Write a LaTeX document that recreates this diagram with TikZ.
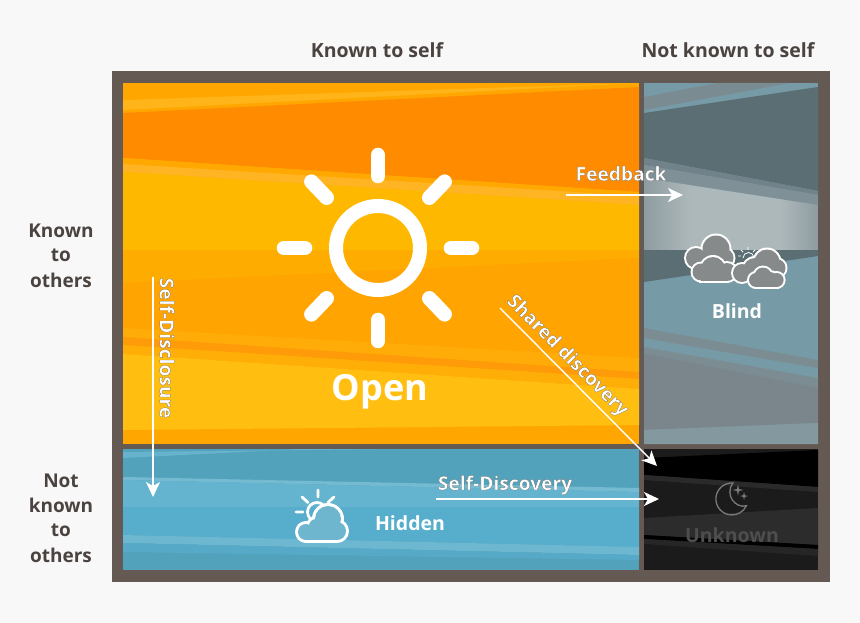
\documentclass[tikz,border=0pt]{standalone}
\usepackage{fontspec}
\setmainfont{Open Sans}
\usetikzlibrary{arrows.meta}
\definecolor{bgc}{HTML}{F8F8F8}
\definecolor{framec}{HTML}{645A53}
\definecolor{headc}{HTML}{4A4340}
\definecolor{cloudg}{HTML}{868A8B}
\definecolor{cloudb}{HTML}{6DB6CE}
\definecolor{greyedge}{HTML}{8E9CA1}
\definecolor{greymid}{HTML}{ADB8BA}
\definecolor{unkc}{HTML}{4E4E4E}
\newcommand{\bandfill}[7]{\fill[#1] (#2,#4) -- (#3,#5) -- (#3,#7) -- (#2,#6) -- cycle;}
\newcommand{\halo}[1]{\special{pdf:code 2 Tr 0.22 w 0.42 0.4 0.38 RG}#1\special{pdf:code 0 Tr}}
\newcommand{\lobes}[3]{%
  \foreach \cx/\cy/\cr in {#3} {\fill[#1] (\cx,\cy) circle ({\cr+#2});}%
}
\newcommand{\lobesin}[2]{%
  \foreach \cx/\cy/\cr in {#2} {\fill[#1] (\cx,\cy) circle (\cr);}%
}
\tikzset{
  HTML/.code={\definecolor{tmpc}{HTML}{#1}\pgfkeysalso{color=tmpc}},
  head/.style={font=\fontsize{19.5}{22}\selectfont\bfseries, text=headc, inner sep=0pt},
  side/.style={font=\fontsize{19}{22}\selectfont\bfseries, text=headc, inner sep=0pt},
  panel/.style={font=\bfseries, text=white, inner sep=0pt},
  flow/.style={draw=white, line width=1.4pt, -{Stealth[length=15pt,width=14pt,inset=4pt]}},
  flowtext/.style={font=\fontsize{19.2}{21}\selectfont\bfseries, text=white, inner sep=0pt},
  ray/.style={line width=14.6pt, line cap=round, white},
}
\begin{document}
\begin{tikzpicture}[x=1pt,y=-1pt]
\useasboundingbox (0,0) rectangle (860,623);
\fill[bgc] (0,0) rectangle (860,623);
\fill[framec] (112,71) rectangle (830,582);
% ---------- Open
\begin{scope}
\clip (123,83) rectangle (639,444);
\fill[HTML=FFA700] (123,83) rectangle (639,444);
\bandfill{HTML=FFB41A}{123}{639}{100}{83}{110}{83}
\fill[HTML=FF8C00] (123,113) -- (639,87) -- (639,192) -- (123,158) -- cycle;
\bandfill{HTML=FFA800}{123}{639}{158}{192}{165}{198}
\bandfill{HTML=FFB523}{123}{639}{164}{196}{172}{205}
\bandfill{HTML=FFB800}{123}{639}{172}{205}{250}{250}
\bandfill{HTML=FFAC00}{123}{639}{250}{250}{283}{258}
\bandfill{HTML=FFA400}{123}{639}{283}{258}{330}{360}
\bandfill{HTML=FFAC08}{123}{639}{328}{358}{338}{372}
\bandfill{HTML=FF9A08}{123}{639}{337}{372}{345}{379}
\bandfill{HTML=FFAE08}{123}{639}{345}{379}{354}{389}
\bandfill{HTML=FFBE10}{123}{639}{354}{389}{430}{425}
\end{scope}
% ---------- Blind
\begin{scope}
\clip (644,83) rectangle (818,444);
\fill[HTML=769AA6] (644,83) rectangle (818,444);
\fill[HTML=7A8C92] (644,97) -- (718,83) -- (790,83) -- (644,110) -- cycle;
\fill[HTML=5B6E74] (644,113) -- (818,87) -- (818,191) -- (644,158) -- cycle;
\fill[HTML=71828A] (644,158) -- (818,191) -- (818,195) -- (644,165) -- cycle;
\fill[HTML=7F9197] (644,165) -- (818,195) -- (818,205) -- (644,178) -- cycle;
\begin{scope}
\clip (644,178) -- (818,205) -- (818,250) -- (644,250) -- cycle;
\shade[left color=greyedge, right color=greymid] (644,170) rectangle (690,250);
\fill[greymid] (689.5,170) rectangle (780.5,250);
\shade[left color=greymid, right color=greyedge] (780,170) rectangle (818,250);
\end{scope}
\fill[HTML=5B6E74] (644,250) -- (818,250) -- (818,256) -- (644,282) -- cycle;
\fill[HTML=7B8D92] (644,328) -- (818,360) -- (818,368) -- (644,338) -- cycle;
\fill[HTML=7B8D92] (644,347) -- (818,378) -- (818,388) -- (644,353) -- cycle;
\fill[HTML=7A868B] (644,353) -- (818,388) -- (818,423) -- (644,430) -- cycle;
\fill[HTML=84989F] (644,430) -- (818,423) -- (818,444) -- (644,444) -- cycle;
\end{scope}
% ---------- Hidden
\begin{scope}
\clip (123,449) rectangle (639,570);
\fill[HTML=53A2BC] (123,449) rectangle (639,570);
\fill[HTML=67B3CE] (123,452) -- (400,449) -- (300,449) -- (123,458) -- cycle;
\fill[HTML=74BBD2] (123,477) -- (639,488) -- (639,492) -- (123,480) -- cycle;
\fill[HTML=65B4CF] (123,480) -- (639,492) -- (639,507) -- (123,507) -- cycle;
\fill[HTML=56ADCC] (123,507) -- (639,507) -- (639,547) -- (123,535) -- cycle;
\fill[HTML=6DB8D0] (123,535) -- (639,547) -- (639,555) -- (123,543) -- cycle;
\fill[HTML=56AAC8] (123,543) -- (639,555) -- (639,560) -- (123,552) -- cycle;
\end{scope}
% ---------- Unknown
\begin{scope}
\clip (644,449) rectangle (818,570);
\fill[HTML=1B1B1B] (644,449) rectangle (818,570);
\fill[black] (644,458) -- (818,450) -- (818,487) -- (644,475) -- cycle;
\fill[HTML=2A2A2A] (644,475) -- (818,487) -- (818,492) -- (644,480) -- cycle;
\fill[HTML=2C2C2C] (644,518) -- (818,508) -- (818,545) -- (644,535) -- cycle;
\fill[black] (644,535) -- (818,545) -- (818,549) -- (644,539) -- cycle;
\fill[HTML=262626] (644,539) -- (818,549) -- (818,556) -- (644,544) -- cycle;
\end{scope}
% ---------- Sun
\draw[white, line width=14pt] (378,248) circle (42);
\draw[ray] (378,155) -- (378,176);
\draw[ray] (378,320) -- (378,341);
\draw[ray] (284,248) -- (305,248);
\draw[ray] (451,248) -- (472,248);
\draw[ray] (311.4,181.7) -- (326.7,197.7);
\draw[ray] (444.6,181.7) -- (429.3,197.7);
\draw[ray] (311.4,314.3) -- (326.7,298.3);
\draw[ray] (444.6,314.3) -- (429.3,298.3);
% ---------- Blind clouds
\lobes{white}{2}{696/258/10,716/249/13.5,724/258/9.5,710/262/12}
\lobesin{cloudg}{696/258/10,716/249/13.5,724/258/9.5,710/262/12}
\fill[white] (699,270) rectangle (729,283);
\lobes{white}{2}{701/272/8.5,713/269/12,727/272/9}
\lobesin{cloudg}{701/272/8.5,713/269/12,727/272/9}
\fill[cloudg] (701,270) rectangle (727,281);
\draw[white, line width=0.8pt] (743,258) arc[start angle=-180,end angle=0,radius=5.5];
\draw[white, line width=0.8pt] (748,247) -- (748,250) (741,250) -- (743,252) (755,250) -- (753,252) (738,256) -- (741,256);
\lobes{white}{2}{742/273/9,755/270/12,767/262/12.5,776.5/268/9,770/273/8}
\lobesin{cloudg}{742/273/9,755/270/12,767/262/12.5,776.5/268/9,770/273/8}
\fill[white] (754,278) rectangle (779,289);
\lobes{white}{2}{756/280/7,763/276/8.5,776.6/280/7,770/279/7}
\lobesin{cloudg}{756/280/7,763/276/8.5,776.6/280/7,770/279/7}
\fill[cloudg] (756,279) rectangle (776.6,287);
% ---------- Hidden cloud
\draw[white, line width=2.8pt] (317,512) circle (9.5);
\draw[white, line width=2.8pt, line cap=round] (318,490) -- (318,497) (302,497) -- (308,502.5) (334,497) -- (328,502.5) (296,512) -- (303,512);
\lobes{white}{3}{306/532/8,316/526/7,328/519/13,337/531/9}
\lobesin{cloudb}{306/532/8,316/526/7,328/519/13,337/531/9}
\fill[white] (306,534) rectangle (337,543);
\fill[cloudb] (306,530) rectangle (337,540);
% ---------- Moon
\draw[HTML=7A7A7A, line width=1.3pt] (733,483) arc[start angle=-86,end angle=-335,radius=16] .. controls (736,509) and (724,495) .. (733,483) -- cycle;
\fill[HTML=7A7A7A] (738,484.5) -- (739,489) -- (743.5,490) -- (739,491) -- (738,495.5) -- (737,491) -- (732.5,490) -- (737,489) -- cycle;
\fill[HTML=7A7A7A] (744,492) -- (744.8,495.2) -- (748,496) -- (744.8,496.8) -- (744,500) -- (743.2,496.8) -- (740,496) -- (743.2,495.2) -- cycle;
% ---------- Labels
\node[head] (hA) at (377,50) {Known to self};
\node[head] (hB) at (728,50) {Not known to self};
\node[side] (r1) at (61,231) {Known};
\node[side] (r2) at (61,255) {to};
\node[side] (r3) at (61,280) {others};
\node[side] (r4) at (61,481) {Not};
\node[side] (r5) at (61,505) {known};
\node[side] (r6) at (61,530) {to};
\node[side] (r7) at (61,555) {others};
\node[panel, font=\fontsize{36}{40}\selectfont\bfseries] (open) at (380,392) {Open};
\node[panel, font=\fontsize{19.5}{22}\selectfont\bfseries] (blind) at (737,311) {Blind};
\node[panel, font=\fontsize{19.5}{22}\selectfont\bfseries] (hidden) at (410,523) {Hidden};
\node[panel, font=\fontsize{19.5}{22}\selectfont\bfseries, text=unkc] (unknown) at (732,535) {Unknown};
% ---------- Flows
\coordinate (f1) at (566,195);  \coordinate (f2) at (683,195);
\coordinate (d1) at (153,277);  \coordinate (d2) at (153,497);
\coordinate (s1) at (500,308);  \coordinate (s2) at (657,466);
\coordinate (e1) at (436,499);  \coordinate (e2) at (659,499);
\draw[flow] (f1) -- (f2);
\draw[flow] (d1) -- (d2);
\draw[flow] (s1) -- (s2);
\draw[flow] (e1) -- (e2);
\node[flowtext] (tf) at (621,173.5) {\halo{Feedback}};
\node[flowtext, rotate=-90] (td) at (167,348) {\halo{Self-Disclosure}};
\node[flowtext, rotate=-45] (ts) at (567,356) {\halo{Shared discovery}};
\node[flowtext] (te) at (505,485) {\halo{Self-Discovery}};
\end{tikzpicture}
\end{document}
